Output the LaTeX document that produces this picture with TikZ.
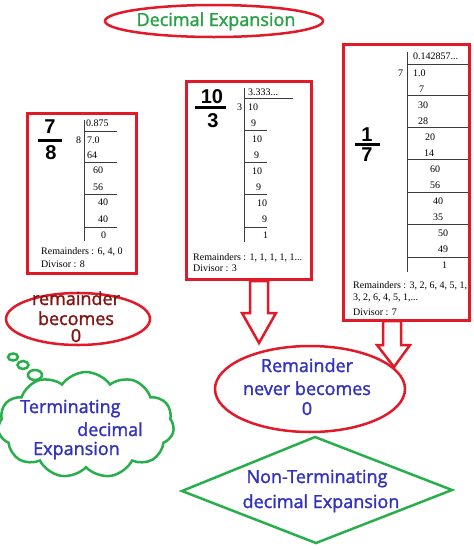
\documentclass[tikz,border=0pt]{standalone}
\usepackage{fontspec}
\setmainfont{Liberation Serif}
\newfontfamily\hand[FakeBold=1.6]{Open Sans}
\newfontfamily\fracfont{Liberation Sans}
\usetikzlibrary{shapes.geometric,shapes.symbols}
\definecolor{myred}{RGB}{225,25,40}
\definecolor{mygreen}{RGB}{40,175,75}
\definecolor{titlegreen}{RGB}{40,160,70}
\definecolor{myblue}{RGB}{50,50,190}
\definecolor{maroon}{RGB}{130,20,20}
\definecolor{divline}{RGB}{60,60,60}
\begin{document}
\begin{tikzpicture}[x=1pt,y=-1pt,
  num/.style={font=\fontsize{10}{12}\selectfont, inner sep=0pt, anchor=base west},
  fracnum/.style={font=\fracfont\bfseries\fontsize{20}{20}\selectfont, inner sep=0pt, anchor=base},
  fracbar/.style={line width=3pt, black},
  divl/.style={draw=divline, line width=1pt},
  redbox/.style={draw=myred, line width=3pt, rectangle, inner sep=0pt},
  redell/.style={draw=myred, line width=2.5pt, ellipse, inner sep=0pt},
  handtext/.style={font=\hand\fontsize{18}{18}\selectfont, inner sep=0pt, anchor=base},
  hollowarrow/.style={draw=myred, line width=2.5pt, fill=white, line join=miter}
]
\useasboundingbox (0,0) rectangle (474,550);

% title
\node[redell, minimum width=218pt, minimum height=32pt] (title) at (214,21) {};
\node[handtext, text=titlegreen] (titletext) at (216,26) {Decimal Expansion};

% ---------- box 1 : 7/8
\node[redbox, minimum width=109pt, minimum height=160pt] (box1) at (81.5,193) {};
\node[fracnum] (n1) at (50,133) {7};
\draw[fracbar] (38,140) -- (62,140);
\node[fracnum] (dn1) at (51,159) {8};
\draw[divl] (84,120) -- (84,241);
\foreach \yy in {131,162,194,227} \draw[divl] (84,\yy) -- (117,\yy);
\node[num] (q1) at (86,126) {0.875};
\node[num] (dv1) at (76,143) {8};
\node[num] (a1) at (87,143) {7.0};
\node[num] (b1) at (87,158) {64};
\node[num] (c1) at (93,173) {60};
\node[num] (d1) at (93,190) {56};
\node[num] (e1) at (98,205) {40};
\node[num] (f1) at (98,222) {40};
\node[num] (g1) at (101,238) {0};
\node[num] (rem1) at (41,254) {Remainders : 6, 4, 0};
\node[num] (div1) at (41,267) {Divisor : 8};

% ---------- box 2 : 10/3
\node[redbox, minimum width=125pt, minimum height=198pt] (box2) at (248.5,180) {};
\node[fracnum] (n2) at (212,103) {10};
\draw[fracbar] (195,107) -- (226,107);
\node[fracnum] (dn2) at (213,127) {3};
\draw[divl] (244,88) -- (244,242);
\draw[divl] (244,98) -- (293,98);
\foreach \yy in {130,162,194,227} \draw[divl] (244,\yy) -- (267,\yy);
\node[num] (q2) at (248,95) {3.333...};
\node[num] (dv2) at (237,110) {3};
\node[num] (a2) at (248,110) {10};
\node[num] (b2) at (251,126) {9};
\node[num] (c2) at (252,142) {10};
\node[num] (d2) at (254,158) {9};
\node[num] (e2) at (252,174) {10};
\node[num] (f2) at (256,190) {9};
\node[num] (g2) at (257,206) {10};
\node[num] (h2) at (262,222) {9};
\node[num] (i2) at (263,238) {1};
\node[num] (rem2) at (193,260) {Remainders : 1, 1, 1, 1, 1...};
\node[num] (div2) at (193,271) {Divisor : 3};

% ---------- box 3 : 1/7
\node[redbox, minimum width=126pt, minimum height=276pt] (box3) at (406,182) {};
\node[fracnum] (n3) at (367,141) {1};
\draw[fracbar] (355,144) -- (380,144);
\node[fracnum] (dn3) at (367,161) {7};
\draw[divl] (407,52) -- (407,272);
\foreach \yy in {64,95,127,159,192,224,257} \draw[divl] (407,\yy) -- (468,\yy);
\node[num] (q3) at (413,59) {0.142857...};
\node[num] (dv3) at (398,76) {7};
\node[num] (a3) at (413,76) {1.0};
\node[num] (b3) at (419,92) {7};
\node[num] (c3) at (418,108) {30};
\node[num] (d3) at (418,124) {28};
\node[num] (e3) at (425,140) {20};
\node[num] (f3) at (424,156) {14};
\node[num] (g3) at (430,172) {60};
\node[num] (h3) at (430,188) {56};
\node[num] (i3) at (433,204) {40};
\node[num] (j3) at (433,220) {35};
\node[num] (k3) at (438,236) {50};
\node[num] (l3) at (438,252) {49};
\node[num] (m3) at (442,268) {1};
\node[num] (rem3) at (353,288) {Remainders : 3, 2, 6, 4, 5, 1,};
\node[num] (rem3b) at (353,300) {3, 2, 6, 4, 5, 1,...};
\node[num] (div3) at (353,315) {Divisor : 7};

% ---------- remainder becomes 0
\node[redell, minimum width=144pt, minimum height=52pt] (zero) at (78,319) {};
\node[handtext, text=maroon] (zt1) at (76,305) {remainder};
\node[handtext, text=maroon] (zt2) at (76,325) {becomes};
\node[handtext, text=maroon] (zt3) at (76,342) {0};

% ---------- cloud
\node[cloud, draw=mygreen, line width=2.5pt, cloud puffs=11, cloud puff arc=110,
      cloud ignores aspect, minimum width=176pt, minimum height=106pt] (cloud) at (86,425) {};
\node[ellipse, draw=mygreen, line width=2.5pt, minimum width=10pt, minimum height=7pt, inner sep=0pt] (p1) at (13,357) {};
\node[ellipse, draw=mygreen, line width=2.5pt, minimum width=11pt, minimum height=8pt, inner sep=0pt] (p2) at (23,365) {};
\node[ellipse, draw=mygreen, line width=2.5pt, minimum width=14pt, minimum height=10pt, inner sep=0pt] (p3) at (35,375) {};
\node[handtext, text=myblue, anchor=base west] (ct1) at (20,413) {Terminating};
\node[handtext, text=myblue, anchor=base west] (ct2) at (77,436) {decimal};
\node[handtext, text=myblue, anchor=base west] (ct3) at (33,455) {Expansion};

% ---------- remainder never becomes 0
\node[redell, minimum width=190pt, minimum height=86pt] (never) at (310,389) {};
\node[handtext, text=myblue] (nt1) at (307,372) {Remainder};
\node[handtext, text=myblue] (nt2) at (307,395) {never becomes};
\node[handtext, text=myblue] (nt3) at (307,415) {0};

% ---------- diamond
\coordinate (dtop) at (315,437);
\coordinate (dleft) at (182,491);
\coordinate (dright) at (452,490);
\coordinate (dbot) at (316,543);
\draw[draw=mygreen, line width=2.5pt, line join=miter] (dtop) -- (dright) -- (dbot) -- (dleft) -- cycle;
\node[handtext, text=myblue] (dt1) at (317,483) {Non-Terminating};
\node[handtext, text=myblue] (dt2) at (321,508) {decimal Expansion};

% ---------- hollow arrows
\coordinate (ar1) at (259,281);
\draw[hollowarrow] (ar1) ++(-9,0) -- ++(0,32) -- ++(-8,0) -- (259,343) -- (276,313) -- (268,313) -- (268,281) -- cycle;
\coordinate (ar2) at (392,321);
\draw[hollowarrow] (ar2) ++(-9,0) -- ++(0,24) -- ++(-6,0) -- (394,367) -- (410,345) -- (401,345) -- (401,321) -- cycle;
\end{tikzpicture}
\end{document}
